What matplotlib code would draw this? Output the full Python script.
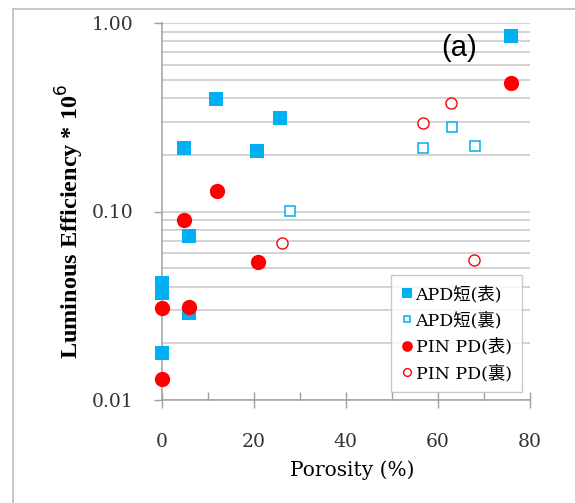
import matplotlib
matplotlib.use('Agg')
import matplotlib.pyplot as plt
from matplotlib.patches import Rectangle
from matplotlib.ticker import LogLocator, FixedLocator, NullFormatter

SERIF = ['DejaVu Serif', 'Noto Sans CJK JP']
BLUE = '#00B0F0'; RED = '#FF0000'; GRID = '#C8C8C8'

# data
apd_front_x = [75.9, 11.8, 25.7, 4.9, 20.7, 6.0, 0, 0, 6.0, 0]
apd_front_y = [0.853, 0.395, 0.313, 0.217, 0.209, 0.074, 0.0418, 0.0371, 0.029, 0.0178]
apd_back_x = [27.9, 56.8, 63.0, 68.0]
apd_back_y = [0.101, 0.216, 0.282, 0.223]
pin_front_x = [75.9, 12.0, 4.95, 21.0, 0, 5.9, 0]
pin_front_y = [0.479, 0.129, 0.090, 0.0542, 0.0306, 0.0313, 0.0130]
pin_back_x = [26.1, 56.8, 62.9, 67.9]
pin_back_y = [0.0683, 0.296, 0.375, 0.0553]
labels = ['APD短(表)', 'APD短(裏)', 'PIN PD(表)', 'PIN PD(裏)']

W, H = 575, 503
fig = plt.figure(figsize=(W/100, H/100), dpi=100)
x0, x1, ytop, ybot = 161.5, 530, 23, 400
ax = fig.add_axes([x0/W, 1-ybot/H, (x1-x0)/W, (ybot-ytop)/H])

# chart area frame (Excel style)
fig.patches.append(Rectangle((13/W, -0.1), 1.2, 1-9/H+0.1, transform=fig.transFigure,
                             fill=False, edgecolor='#BDBDBD', lw=1.2))

ax.set_yscale('log')
ax.set_ylim(0.01, 1)
ax.set_xlim(0, 80)

h1, = ax.plot(apd_front_x, apd_front_y, 's', color=BLUE, ms=10.5, mew=0, clip_on=False, zorder=4)
h2, = ax.plot(apd_back_x, apd_back_y, 's', mfc='white', mec=BLUE, ms=6.5, mew=1.1, clip_on=False, zorder=4)
h3, = ax.plot(pin_front_x, pin_front_y, 'o', color=RED, ms=11, mew=0, clip_on=False, zorder=5)
h4, = ax.plot(pin_back_x, pin_back_y, 'o', mfc='white', mec=RED, ms=8, mew=1.0, clip_on=False, zorder=5)

# gridlines at every minor/major decade step
ax.yaxis.set_major_locator(LogLocator(base=10, numticks=5))
ax.yaxis.set_minor_locator(LogLocator(base=10, subs=range(2, 10), numticks=20))
ax.yaxis.set_minor_formatter(NullFormatter())
ax.grid(True, which='both', axis='y', color=GRID, lw=1.1)
ax.set_axisbelow(True)
ax.yaxis.set_major_formatter(plt.FuncFormatter(lambda v, p: f'{v:.2f}'))
ax.tick_params(axis='y', which='major', direction='out', length=6, width=1, color='#A0A0A0', pad=14)
ax.tick_params(axis='y', which='minor', length=0)

ax.xaxis.set_major_locator(FixedLocator([0, 20, 40, 60, 80]))
ax.xaxis.set_minor_locator(FixedLocator([10, 30, 50, 70]))
ax.tick_params(axis='x', which='major', direction='inout', length=12, width=1, color='#A0A0A0', pad=18)
ax.tick_params(axis='x', which='minor', direction='in', length=6, width=1, color='#A0A0A0')

for s in ['top', 'right']:
    ax.spines[s].set_visible(False)
for s in ['left', 'bottom']:
    ax.spines[s].set_color('#A0A0A0')
    ax.spines[s].set_linewidth(1.1)

for lab in ax.get_xticklabels() + ax.get_yticklabels():
    lab.set_family(SERIF)
    lab.set_fontsize(13.5)
    lab.set_color('#333333')

ax.set_xlabel('Porosity (%)', family=SERIF, fontsize=14.5, va='center')
ax.xaxis.set_label_coords((352-x0)/(x1-x0), (ybot-470)/(ybot-ytop))
ax.set_ylabel('Luminous Efficiency * 10$^6$', family=['Liberation Serif'], fontweight='bold',
              fontsize=17.5, va='center')
ax.yaxis.set_label_coords((70-x0)/(x1-x0), (ybot-221)/(ybot-ytop))

ax.text(459/W, 1-48/H, '(a)', transform=fig.transFigure, ha='center', va='center',
        fontsize=21, family='Liberation Sans')

leg = ax.legend([h1, h2, h3, h4], labels, loc='upper right', bbox_to_anchor=(522/W, 1-275/H),
                bbox_transform=fig.transFigure, borderaxespad=0, markerscale=0.7, handlelength=0.6,
                handletextpad=0.2, labelspacing=0.5, borderpad=0.6, fancybox=False,
                prop={'family': SERIF, 'size': 12.5})
leg.get_frame().set_edgecolor('#BDBDBD')
leg.get_frame().set_linewidth(1.0)

fig.savefig('out.png', dpi=100)
